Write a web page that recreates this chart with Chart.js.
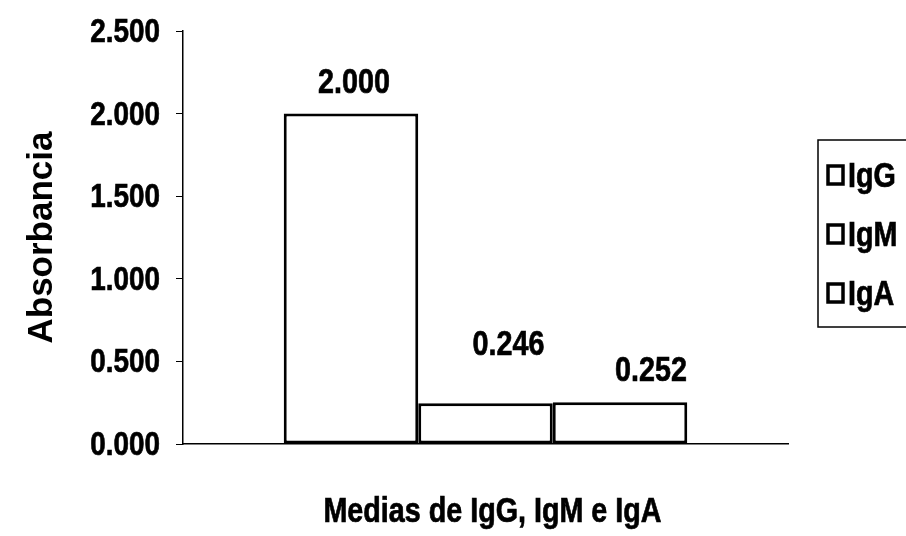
<!DOCTYPE html>
<html lang="es">
<head>
  <meta charset="UTF-8">
  <title>Medias de IgG, IgM e IgA</title>
  <style>
    html, body {
      margin: 0;
      padding: 0;
      background: #fff;
    }
    #wrap {
      position: relative;
      width: 906px;
      height: 536px;
    }
  </style>
</head>
<body>
  <div id="wrap">
    <canvas id="absChart" width="906" height="536"></canvas>
  </div>

  <script src="https://cdn.jsdelivr.net/npm/chart.js"></script>
  <script>
    // datos
    const categories = ['Medias'];
    const seriesNames = ['IgG', 'IgM', 'IgA'];
    const igG = [2.000];
    const igM = [0.246];
    const igA = [0.252];
    const yTicks = [0, 0.5, 1.0, 1.5, 2.0, 2.5];
    const xTitle = 'Medias de IgG, IgM e IgA';

    const FONT = '"Liberation Sans", Arial, sans-serif';
    const SQUEEZE = 0.82; // no hay Arial Narrow: se estrecha el texto a mano

    // desplazamiento de las etiquetas de valor (como en el original)
    const labelShift = [[3, -21], [23, -48], [31, -21]];

    function narrowText(ctx, text, x, y, size, align) {
      ctx.save();
      ctx.font = 'bold ' + size + 'px ' + FONT;
      ctx.fillStyle = '#000';
      ctx.strokeStyle = '#000';
      ctx.lineWidth = 0.7;
      ctx.textAlign = align;
      ctx.textBaseline = 'alphabetic';
      ctx.translate(x, y);
      ctx.scale(SQUEEZE, 1);
      ctx.fillText(text, 0, 0);
      ctx.strokeText(text, 0, 0);
      ctx.restore();
    }

    // etiquetas del eje y y titulo del eje x en letra estrecha
    const narrowAxes = {
      id: 'narrowAxes',
      afterDraw(chart) {
        const ctx = chart.ctx;
        const y = chart.scales.y;
        y.ticks.forEach(t => {
          narrowText(ctx, t.value.toFixed(3), y.right - 23, y.getPixelForValue(t.value) + 11, 34, 'right');
        });
        const area = chart.chartArea;
        narrowText(ctx, xTitle, (area.left + area.right) / 2 + 7, 522, 35, 'center');
      }
    };

    const valueLabels = {
      id: 'valueLabels',
      afterDatasetsDraw(chart) {
        chart.data.datasets.forEach((ds, i) => {
          const bar = chart.getDatasetMeta(i).data[0];
          const [dx, dy] = labelShift[i];
          narrowText(chart.ctx, ds.data[0].toFixed(3), bar.x + dx, bar.y + dy, 35, 'center');
        });
      }
    };

    const boxLegend = {
      id: 'boxLegend',
      afterDraw(chart) {
        const ctx = chart.ctx;
        ctx.save();
        ctx.strokeStyle = '#000';
        ctx.lineWidth = 1.5;
        ctx.strokeRect(818, 140, 120, 187);
        chart.data.datasets.forEach((ds, i) => {
          const cy = 175 + i * 59;
          ctx.fillStyle = '#fff';
          ctx.fillRect(828, cy - 9, 15, 18);
          ctx.lineWidth = 3.5;
          ctx.strokeRect(828, cy - 9, 15, 18);
          narrowText(ctx, ds.label, 848, cy + 12, 35, 'left');
        });
        ctx.restore();
      }
    };

    const barStyle = {
      backgroundColor: '#fff',
      borderColor: '#000',
      borderWidth: 3,
      borderSkipped: false,
      categoryPercentage: 0.667,
      barPercentage: 1.0
    };

    new Chart(document.getElementById('absChart'), {
      type: 'bar',
      data: {
        labels: categories,
        datasets: [
          Object.assign({ label: seriesNames[0], data: igG }, barStyle),
          Object.assign({ label: seriesNames[1], data: igM }, barStyle),
          Object.assign({ label: seriesNames[2], data: igA }, barStyle)
        ]
      },
      options: {
        responsive: false,
        animation: false,
        layout: {
          padding: { top: 31, right: 118, bottom: 0, left: 0 }
        },
        plugins: {
          legend: { display: false },
          tooltip: { enabled: false }
        },
        scales: {
          x: {
            grid: { display: false },
            border: { display: true, color: '#000', width: 1.5 },
            ticks: { display: false },
            afterFit(scale) { scale.height = 92; }
          },
          y: {
            min: 0,
            max: 2.5,
            afterBuildTicks(scale) {
              scale.ticks = yTicks.map(v => ({ value: v }));
            },
            grid: {
              drawOnChartArea: false,
              drawTicks: true,
              tickLength: 7,
              tickColor: '#000',
              color: '#000'
            },
            border: { display: true, color: '#000', width: 1.5 },
            ticks: { display: false },
            title: {
              display: true,
              text: 'Absorbancia',
              color: '#000',
              font: { family: FONT, size: 35, weight: 'bold' },
              padding: { top: 21, bottom: 0 }
            },
            afterFit(scale) { scale.width = 183; }
          }
        }
      },
      plugins: [valueLabels, narrowAxes, boxLegend]
    });
  </script>
</body>
</html>
